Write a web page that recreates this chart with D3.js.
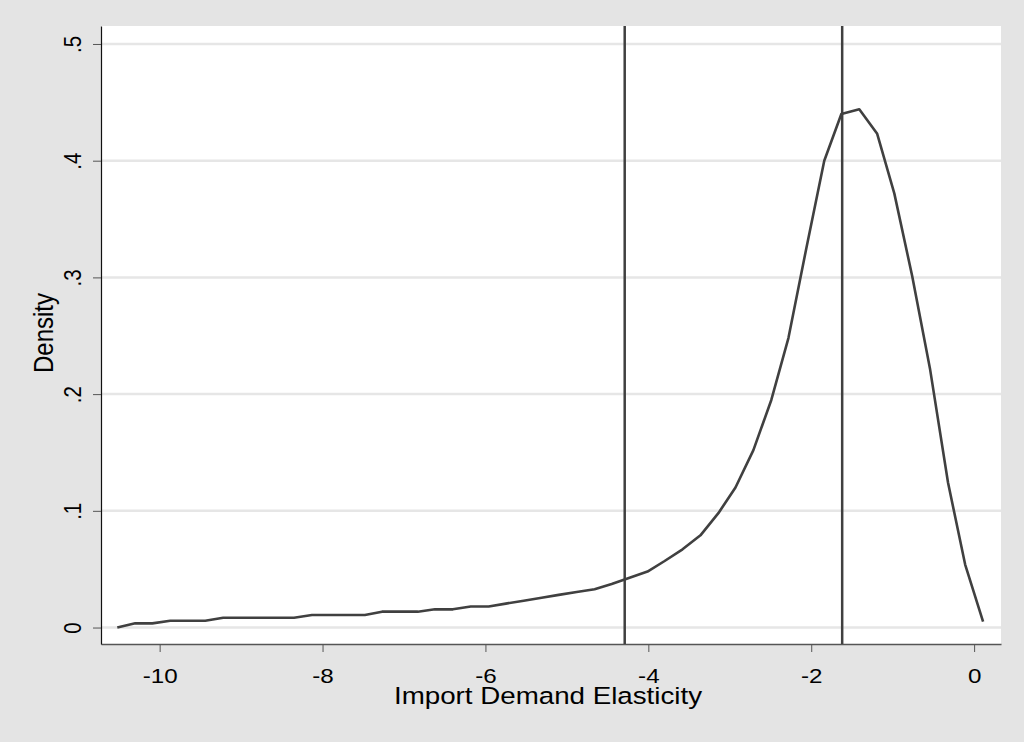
<!DOCTYPE html>
<html>
<head>
<meta charset="utf-8">
<script src="https://cdn.jsdelivr.net/npm/d3@7"></script>
<style>
  body { margin: 0; background: #e4e4e4; }
  svg { display: block; }
  text { font-family: "Liberation Sans", Arial, sans-serif; fill: #000; }
</style>
</head>
<body>
<svg id="chart" width="1024" height="742"></svg>
<script>
// kernel density grid (x) and estimated density (y)
var xs = [-10.52,-10.30,-10.09,-9.87,-9.65,-9.44,-9.22,-9.00,-8.78,-8.57,
          -8.35,-8.13,-7.92,-7.70,-7.48,-7.27,-7.05,-6.83,-6.62,-6.40,
          -6.18,-5.96,-5.75,-5.53,-5.31,-5.10,-4.88,-4.66,-4.45,-4.23,
          -4.01,-3.80,-3.58,-3.36,-3.14,-2.93,-2.71,-2.49,-2.28,-2.06,
          -1.84,-1.63,-1.41,-1.19,-0.98,-0.76,-0.54,-0.32,-0.11,0.11]
var dens = [0,0.0036,0.0036,0.0058,0.0058,0.0058,0.0084,0.0084,0.0084,0.0084,
            0.0084,0.0107,0.0107,0.0107,0.0107,0.0136,0.0136,0.0136,0.0156,0.0156,
            0.018,0.018,0.0205,0.023,0.0255,0.028,0.0305,0.0328,0.0373,0.0427,
            0.048,0.057,0.067,0.079,0.098,0.120,0.152,0.195,0.248,0.325,
            0.400,0.440,0.444,0.423,0.372,0.301,0.221,0.124,0.054,0.005]
var refLines = [-4.29, -1.62]
var xTicks = [-10,-8,-6,-4,-2,0]
var xTickLabels = ["-10","-8","-6","-4","-2","0"]
var yTicks = [0,0.1,0.2,0.3,0.4,0.5]
var yTickLabels = ["0",".1",".2",".3",".4",".5"]
var xTitle = "Import Demand Elasticity"
var yTitle = "Density"

var sx = 1.18 // reference text is stretched sideways
var pLeft = 101, pRight = 1001, pTop = 26, pBottom = 644

var svg = d3.select("#chart")
svg.append("rect").attr("width",1024).attr("height",742).attr("fill","#e4e4e4")
svg.append("rect").attr("x",pLeft).attr("y",pTop).attr("width",pRight-pLeft).attr("height",pBottom-pTop).attr("fill","#fff")

var x = d3.scaleLinear().domain([-10.72, 0.33]).range([pLeft, pRight])
var y = d3.scaleLinear().domain([-0.0141, 0.5154]).range([pBottom, pTop])

// grid
svg.append("g").selectAll("line").data(yTicks).enter().append("line")
    .attr("x1", pLeft).attr("x2", pRight)
    .attr("y1", function(d){return y(d)}).attr("y2", function(d){return y(d)})
    .attr("stroke","#e6e6e6").attr("stroke-width",2.5)

// axes
var xAxis = svg.append("g").attr("transform","translate(0,"+pBottom+")")
    .call(d3.axisBottom(x).tickValues(xTicks).tickSize(8).tickSizeOuter(0)
        .tickFormat(function(d,i){return xTickLabels[i]}))
xAxis.select(".domain").attr("stroke","#555").attr("stroke-width",1.5)
xAxis.selectAll(".tick line").attr("stroke","#555")
xAxis.selectAll(".tick text")
    .attr("y",null).attr("dy",null)
    .attr("transform","translate(0,39) scale("+sx+",1)")
    .style("font-size","20.5px").style("font-family","Liberation Sans, Arial, sans-serif")

var yAxis = svg.append("g").attr("transform","translate("+pLeft+",0)")
    .call(d3.axisLeft(y).tickValues(yTicks).tickSize(8).tickSizeOuter(0)
        .tickFormat(function(d,i){return yTickLabels[i]}))
yAxis.select(".domain").attr("stroke","#111").attr("stroke-width",1.2)
yAxis.selectAll(".tick line").attr("stroke","#555")
yAxis.selectAll(".tick text")
    .attr("x",null).attr("dy",null)
    .attr("text-anchor","middle")
    .attr("transform","translate(-20,0) scale("+sx+",1) rotate(-90)")
    .style("font-size","20.5px").style("font-family","Liberation Sans, Arial, sans-serif")

// axis titles
svg.append("text").text(xTitle)
    .attr("text-anchor","middle")
    .attr("transform","translate(548,704) scale("+sx+",1)")
    .style("font-size","23.5px")
svg.append("text").text(yTitle)
    .attr("text-anchor","middle")
    .attr("transform","translate(53,333) scale("+sx+",1) rotate(-90)")
    .style("font-size","24px")

// reference lines
svg.append("g").selectAll("line").data(refLines).enter().append("line")
    .attr("x1", function(d){return x(d)}).attr("x2", function(d){return x(d)})
    .attr("y1", pTop).attr("y2", pBottom)
    .attr("stroke","#404040").attr("stroke-width",2.5)

// density curve
var line = d3.line().x(function(d,i){return x(xs[i])}).y(function(d){return y(d)})
svg.append("path").datum(dens)
    .attr("d", line)
    .attr("fill","none").attr("stroke","#404040").attr("stroke-width",2.6)
    .attr("stroke-linejoin","round")
</script>
</body>
</html>
